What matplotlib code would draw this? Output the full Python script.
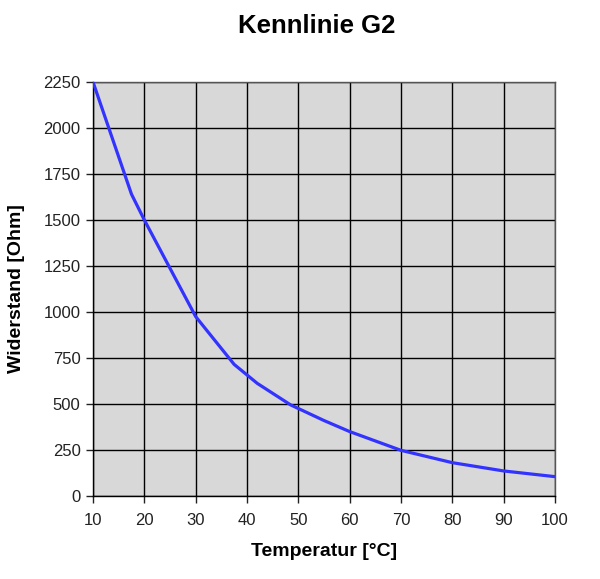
import matplotlib
matplotlib.use("Agg")
import matplotlib.pyplot as plt

temperature = [10, 17.5, 20, 30, 37.5, 42, 48.5, 55, 60, 70, 80, 90, 100]
resistance = [2250, 1640, 1500, 975, 715, 612, 495, 410, 350, 248, 181, 136, 105]
xticks = list(range(10, 101, 10))
yticks = list(range(0, 2251, 250))

plt.rcParams['font.family'] = ['Liberation Sans', 'DejaVu Sans']

fig = plt.figure(figsize=(6.0, 5.79), dpi=100)
ax = fig.add_axes([0.155, 0.1434, 0.77, 0.715])
ax.set_facecolor('#d8d8d8')
ax.plot(temperature, resistance, color='#3333ff', linewidth=2.3, zorder=3)
ax.set_xlim(10, 100)
ax.set_ylim(0, 2250)
ax.set_xticks(xticks)
ax.set_yticks(yticks)
ax.grid(True, color='black', linewidth=1.0, zorder=1)
ax.set_axisbelow(True)
for s in ax.spines.values():
    s.set_color('#555555')
    s.set_linewidth(1.0)
ax.spines['left'].set_color('black')
ax.spines['bottom'].set_color('black')
ax.tick_params(axis='both', direction='out', length=5, width=1, labelsize=12, colors='#222222')
ax.tick_params(axis='x', pad=7)
ax.tick_params(axis='y', pad=4)
ax.set_xlabel('Temperatur [°C]', fontsize=14, fontweight='bold', labelpad=11)
ax.set_ylabel('Widerstand [Ohm]', fontsize=14, fontweight='bold', labelpad=13)
fig.text(0.527, 0.955, 'Kennlinie G2', ha='center', va='center', fontsize=18.5, fontweight='bold')
fig.savefig('out.png', dpi=100, facecolor='white')
